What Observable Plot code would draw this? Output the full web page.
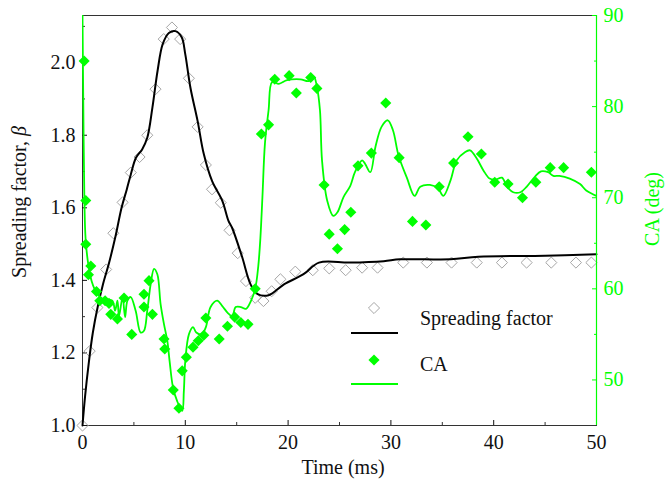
<!DOCTYPE html>
<html><head><meta charset="utf-8">
<script src="https://cdn.jsdelivr.net/npm/d3@7"></script>
<script src="https://cdn.jsdelivr.net/npm/@observablehq/plot@0.6"></script>
<style>
body{margin:0;background:#fff}
#chart{position:relative;width:665px;height:489px}
#chart svg{position:absolute;left:0;top:0}
</style>
</head><body><div id="chart"></div>
<script>
// Spreading factor markers
const spreadT = [0,0.7,1.45,2.3,3.0,3.9,4.7,5.55,6.3,7.1,7.9,8.7,9.5,10.35,11.2,12.0,12.6,13.45,14.3,15.1,15.9,16.8,17.6,18.4,19.25,20.7,22.4,24.0,25.6,27.2,28.7,31.2,33.5,35.9,38.35,40.8,43.2,45.6,48.0,49.5];
const spreadB = [1.0,1.205,1.325,1.43,1.53,1.615,1.697,1.74,1.80,1.927,2.065,2.097,2.065,1.957,1.823,1.718,1.651,1.614,1.538,1.475,1.398,1.352,1.343,1.37,1.403,1.424,1.428,1.433,1.428,1.435,1.435,1.449,1.449,1.449,1.449,1.449,1.449,1.449,1.449,1.449];
// Spreading factor fit line
const spreadFitT = [0,0.25,0.6,1.0,1.5,2.0,2.6,3.2,3.8,4.3,4.7,5.2,5.8,6.3,6.8,7.3,7.8,8.4,9.05,9.65,10.0,10.5,11.2,11.8,12.6,13.6,14.2,14.55,15.5,16.35,17.0,18.1,19.6,21.5,23.0,26.0,29.3,30.9,35.8,38.5,45,50];
const spreadFitB = [1.0,1.08,1.17,1.255,1.33,1.39,1.45,1.52,1.6,1.65,1.692,1.738,1.761,1.793,1.876,1.977,2.051,2.082,2.087,2.07,2.023,1.931,1.839,1.748,1.674,1.619,1.564,1.545,1.467,1.389,1.363,1.359,1.389,1.417,1.449,1.449,1.453,1.458,1.458,1.465,1.468,1.472];
// CA markers
const caT = [0.16,0.32,0.32,0.58,0.81,1.36,1.68,2.2,2.58,2.75,3.4,4.04,4.79,5.98,5.98,6.47,6.8,7.93,8.0,8.83,9.38,9.7,10.1,10.75,11.26,11.8,12.0,13.3,14.1,14.8,15.4,16.1,16.8,17.4,18.1,18.7,20.1,20.8,22.2,22.8,23.5,24.0,24.8,25.5,26.1,26.8,28.1,29.5,30.8,32.1,33.4,34.7,36.1,37.5,38.8,40.1,41.4,42.8,44.1,45.5,46.8,49.5];
const caV = [85.0,69.7,64.9,61.55,62.5,59.7,58.7,58.7,58.4,57.2,56.7,59.0,55.0,59.4,58.0,60.9,57.2,54.5,53.4,48.9,46.9,51.0,52.5,53.6,54.3,54.9,56.8,54.5,55.9,56.9,56.3,56.1,60.0,77.0,78.0,83.0,83.4,81.5,83.2,82.0,71.4,66.0,64.4,66.5,68.4,73.5,74.9,80.4,74.4,67.4,67.0,71.2,73.8,76.7,74.8,71.7,71.5,70.0,71.7,73.3,73.3,72.8];
// CA fit line
const caFitT = [0,0.08,0.18,0.3,0.55,0.9,1.4,2.1,2.9,3.17,3.4,3.55,3.9,4.14,4.37,4.69,5.17,5.66,5.98,6.3,6.63,6.96,7.28,7.6,7.93,8.25,8.47,8.8,9.2,9.7,9.86,10.0,10.35,10.75,11.07,11.6,12.0,12.46,13.1,13.6,14.1,14.56,14.9,15.4,15.9,16.4,16.8,17.1,17.3,17.5,17.75,18.1,18.45,19.1,19.9,21.2,22.0,22.5,22.8,23.1,23.3,23.8,24.4,24.8,25.4,26.05,26.5,27.2,27.5,28.0,28.5,29.1,29.7,30.2,30.75,31.55,32.3,32.85,33.8,34.6,35.1,35.8,36.4,37.2,37.7,38.35,39.0,39.6,40.2,40.8,41.3,41.9,42.6,43.2,44.0,44.6,45.3,45.8,46.4,47.4,48.4,49.0,50];
const caFitV = [90,80,70,65.5,62.8,60.8,59.5,58.8,58.7,57.6,58.7,57.0,59.1,56.9,58.7,59.1,57.6,55.2,55.4,57.6,60.5,62.2,61.6,58.3,56.1,54.3,52.1,49.2,47.7,46.6,48.8,52.1,55.0,55.8,55.2,55.0,55.8,58.0,58.7,58.1,57.4,57.0,58.0,58.0,57.8,58.7,60.0,62.5,65.5,70,76,79.6,82.7,82.5,82.9,83.0,82.8,83.3,82.2,79.6,74.1,69.7,68.0,68.4,70.1,71.3,72.8,74.1,73.7,72.8,75.6,77.8,78.5,77.4,74.6,72.2,70.2,71.2,71.4,71.0,70.2,71.9,74.1,75.0,75.2,74.3,73.0,72.1,72.0,72.2,71.2,70.6,70.6,71.2,72.3,72.9,72.8,72.4,72.4,72.1,71.5,70.8,70.2];
// Ticks
const xTicks = [0,10,20,30,40,50];
const xMinor = [5,15,25,35,45];
const bTicks = [1.0,1.2,1.4,1.6,1.8,2.0];
const bMinor = [1.1,1.3,1.5,1.7,1.9,2.1];
const caTicks = [50,60,70,80,90];
const caMinor = [55,65,75,85];

const GREEN = "#00ff00";
const AX = "#333";
const FONT = "'Liberation Serif','Times New Roman',serif";
const zip = (a,b) => a.map((v,i)=>({x:v,y:b[i]}));

const common = {
  width: 665, height: 489,
  marginLeft: 82, marginRight: 69, marginTop: 15, marginBottom: 64,
  style: {fontFamily: FONT, fontSize: "20px", background: "transparent", overflow: "visible"}
};

const p1 = Plot.plot({
  ...common,
  x: {domain: [0,50]},
  y: {domain: [1.0, 2.13]},
  marks: [
    Plot.frame({stroke: AX}),
    Plot.axisX(xTicks, {anchor: "bottom", tickSize: -5, tickPadding: 14, label: null, color: "#111", tickFormat: d => d}),
    Plot.axisX(xMinor, {anchor: "bottom", tickSize: -3, label: null, color: AX, tickFormat: () => ""}),
    Plot.axisY(bTicks, {anchor: "left", tickSize: -5, tickPadding: 12, label: null, color: "#111", tickFormat: d3.format(".1f")}),
    Plot.axisY(bMinor, {anchor: "left", tickSize: -3, label: null, color: AX, tickFormat: () => ""}),
    Plot.dot(zip(spreadT, spreadB), {x: "x", y: "y", symbol: "diamond2", r: 5, stroke: "#a6a6a6", strokeWidth: 1, fill: "none"}),
    Plot.line(zip(spreadFitT, spreadFitB), {x: "x", y: "y", curve: "catmull-rom", stroke: "#000", strokeWidth: 2})
  ]
});

const p2 = Plot.plot({
  ...common,
  x: {domain: [0,50], axis: null},
  y: {domain: [45, 90]},
  marks: [
    Plot.ruleX([50], {stroke: GREEN, strokeWidth: 1.2}),
    Plot.axisY(caTicks, {anchor: "right", tickSize: -5, tickPadding: 12, label: null, color: GREEN, tickFormat: d => d}),
    Plot.axisY(caMinor, {anchor: "right", tickSize: -3, label: null, color: GREEN, tickFormat: () => ""}),
    Plot.line(zip(caFitT, caFitV), {x: "x", y: "y", curve: "catmull-rom", stroke: GREEN, strokeWidth: 1.8, clip: true}),
    Plot.dot(zip(caT, caV), {x: "x", y: "y", symbol: "diamond2", r: 5, fill: GREEN, stroke: "none"})
  ]
});

const chart = document.getElementById("chart");
chart.appendChild(p1);
chart.appendChild(p2);

// Axis titles
const s1 = d3.select(p1);
const yl = s1.append("text")
  .attr("transform", "translate(19,202) rotate(-90)")
  .attr("text-anchor", "middle").attr("dominant-baseline", "central")
  .attr("fill", "#111").style("font-size", "20px");
yl.append("tspan").text("Spreading factor, ");
yl.append("tspan").attr("font-style", "italic").text("β");
s1.append("text").attr("x", 343).attr("y", 467)
  .attr("text-anchor", "middle").attr("dominant-baseline", "central")
  .attr("fill", "#111").style("font-size", "20px").text("Time (ms)");

const s2 = d3.select(p2);
s2.append("text")
  .attr("transform", "translate(652,209) rotate(-90)")
  .attr("text-anchor", "middle").attr("dominant-baseline", "central")
  .attr("fill", GREEN).style("font-size", "20px").text("CA (deg)");

// Legend
const lg = s2.append("g").attr("text-anchor", "start");
const dia = d3.symbol().type(d3.symbolDiamond2).size(5*5*Math.PI);
lg.append("path").attr("d", dia()).attr("transform", "translate(374,308)")
  .attr("fill", "none").attr("stroke", "#a6a6a6");
lg.append("line").attr("x1", 351).attr("x2", 398).attr("y1", 333).attr("y2", 333)
  .attr("stroke", "#000").attr("stroke-width", 2);
lg.append("text").attr("x", 420).attr("y", 318).attr("text-anchor", "start").attr("dominant-baseline", "central")
  .attr("fill", "#111").style("font-size", "20px").text("Spreading factor");
lg.append("path").attr("d", dia()).attr("transform", "translate(374,360)").attr("fill", GREEN);
lg.append("line").attr("x1", 351).attr("x2", 398).attr("y1", 384).attr("y2", 384)
  .attr("stroke", GREEN).attr("stroke-width", 2);
lg.append("text").attr("x", 420).attr("y", 364).attr("text-anchor", "start").attr("dominant-baseline", "central")
  .attr("fill", "#111").style("font-size", "20px").text("CA");
</script></body></html>
